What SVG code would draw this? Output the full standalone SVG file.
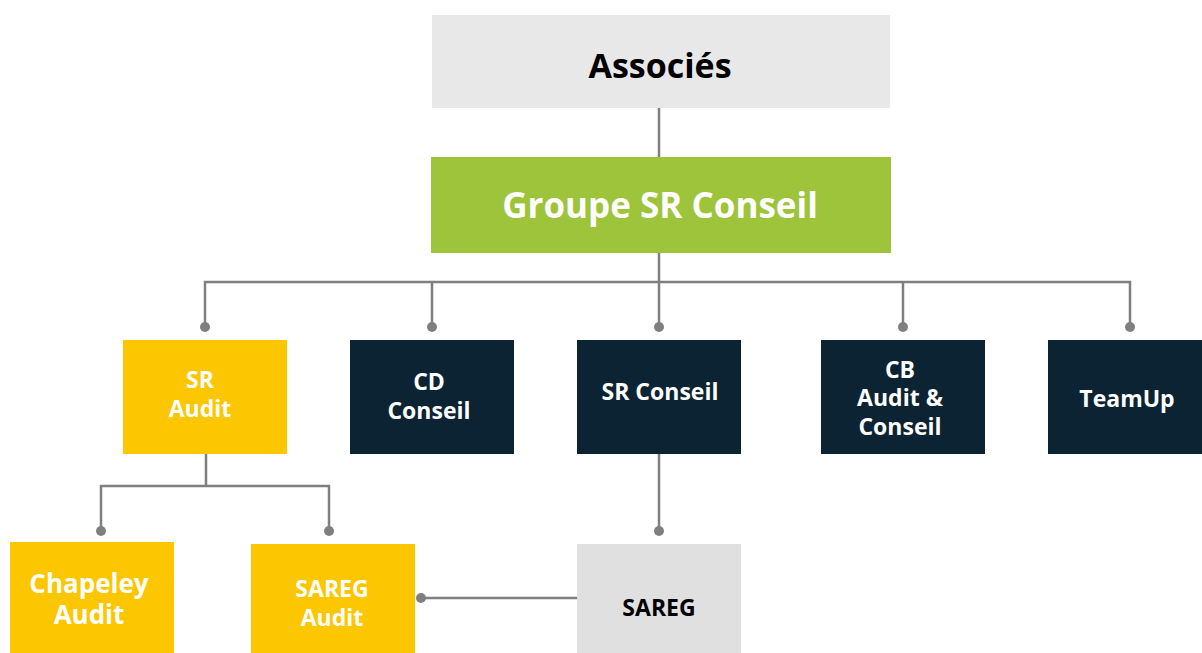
<svg xmlns="http://www.w3.org/2000/svg" width="1202" height="653" viewBox="0 0 1202 653">
<style>
  .t{font-family:"Open Sans","Noto Sans","Liberation Sans",sans-serif;font-weight:700;text-anchor:middle}
  .w{fill:#ffffff}
  .k{fill:#000000}
  .ln{fill:none;stroke:#7f7f7f;stroke-width:2.5}
  .dot{fill:#7f7f7f}
  .navy{fill:#0c2333}
  .yel{fill:#fcc600}
</style>
<g id="connectors">
  <path class="ln" d="M659 108V157"/>
  <path class="ln" d="M659 253V282M205 327V282H1130V327M432 282V327M659 282V327M903 282V327"/>
  <path class="ln" d="M206 453V486M101 531V486H329V531"/>
  <path class="ln" d="M659 453V531"/>
  <path class="ln" d="M585 598H421"/>
  <circle class="dot" cx="205" cy="327" r="5"/>
  <circle class="dot" cx="432" cy="327" r="5"/>
  <circle class="dot" cx="659" cy="327" r="5"/>
  <circle class="dot" cx="903" cy="327" r="5"/>
  <circle class="dot" cx="1130" cy="327" r="5"/>
  <circle class="dot" cx="101" cy="531" r="5"/>
  <circle class="dot" cx="329" cy="531" r="5"/>
  <circle class="dot" cx="659" cy="531" r="5"/>
  <circle class="dot" cx="421" cy="598" r="5"/>
</g>
<g id="associes">
  <rect x="432" y="15" width="458" height="93" fill="#e8e8e8"/>
  <text class="t k" x="660" y="78" font-size="34">Associés</text>
</g>
<g id="groupe">
  <rect x="431" y="157" width="460" height="96" fill="#9dc43b"/>
  <text class="t w" x="660" y="218" font-size="35">Groupe SR Conseil</text>
</g>
<g id="sr-audit">
  <rect class="yel" x="123" y="340" width="164" height="114"/>
  <text class="t w" font-size="23"><tspan x="200" y="388">SR</tspan><tspan x="200" y="417">Audit</tspan></text>
</g>
<g id="cd-conseil">
  <rect class="navy" x="350" y="340" width="164" height="114"/>
  <text class="t w" font-size="23"><tspan x="429" y="390">CD</tspan><tspan x="429" y="419">Conseil</tspan></text>
</g>
<g id="sr-conseil">
  <rect class="navy" x="577" y="340" width="164" height="114"/>
  <text class="t w" x="660" y="400" font-size="23">SR Conseil</text>
</g>
<g id="cb-audit-conseil">
  <rect class="navy" x="821" y="340" width="164" height="114"/>
  <text class="t w" font-size="23"><tspan x="900" y="378">CB</tspan><tspan x="900" y="406">Audit &amp;</tspan><tspan x="900" y="435">Conseil</tspan></text>
</g>
<g id="teamup">
  <rect class="navy" x="1048" y="340" width="154" height="114"/>
  <text class="t w" x="1127" y="407" font-size="23">TeamUp</text>
</g>
<g id="chapeley-audit">
  <rect class="yel" x="10" y="542" width="164" height="111"/>
  <text class="t w" font-size="26"><tspan x="89" y="593">Chapeley</tspan><tspan x="89" y="624">Audit</tspan></text>
</g>
<g id="sareg-audit">
  <rect class="yel" x="251" y="544" width="164" height="109"/>
  <text class="t w" font-size="23"><tspan x="332" y="597">SAREG</tspan><tspan x="332" y="626">Audit</tspan></text>
</g>
<g id="sareg">
  <rect x="577" y="544" width="164" height="109" fill="#e0e0e0"/>
  <text class="t k" x="659" y="616" font-size="23">SAREG</text>
</g>
</svg>
